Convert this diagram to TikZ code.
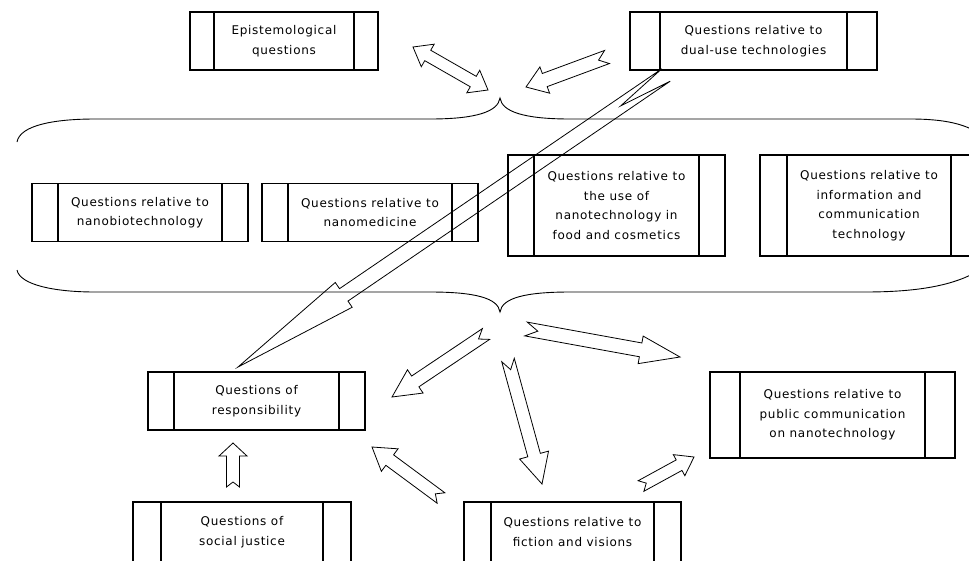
\documentclass[tikz,border=0pt]{standalone}
\usepackage{fontspec}
\setmainfont{DejaVu Sans}[LetterSpace=6]
\usetikzlibrary{calc}

\newcommand{\qfont}{\fontsize{12}{19.5}\selectfont}
% tail, tip, shaft half width, head half width, head length, notch depth
\newcommand{\blockarrow}[6]{%
	\coordinate (ba-h) at ($(#2)!#5!(#1)$);
	\draw[arr] ($(#1)!#3!90:(#2)$) -- ($(ba-h)!#3!90:(#2)$) -- ($(ba-h)!#4!90:(#2)$) -- (#2)
		-- ($(ba-h)!#4!-90:(#2)$) -- ($(ba-h)!#3!-90:(#2)$) -- ($(#1)!#3!-90:(#2)$) -- ($(#1)!#6!(#2)$) -- cycle;
}
% end, end, shaft half width, head half width, head length
\newcommand{\blockdarrow}[5]{%
	\coordinate (bd-a) at ($(#1)!#5!(#2)$);
	\coordinate (bd-b) at ($(#2)!#5!(#1)$);
	\draw[arr] (#1) -- ($(bd-a)!#4!90:(#2)$) -- ($(bd-a)!#3!90:(#2)$) -- ($(bd-b)!#3!90:(#2)$) -- ($(bd-b)!#4!90:(#2)$) -- (#2)
		-- ($(bd-b)!#4!-90:(#2)$) -- ($(bd-b)!#3!-90:(#2)$) -- ($(bd-a)!#3!-90:(#2)$) -- ($(bd-a)!#4!-90:(#2)$) -- cycle;
}

\begin{document}
\begin{tikzpicture}[x=1pt,y=-1pt,
	qbox/.style={draw,line width=1.2pt,inner sep=0pt,align=center,font=\qfont,minimum height=58pt,
		path picture={\draw[line width=1.2pt] ([xshift=#1]path picture bounding box.north west) -- ([xshift=#1]path picture bounding box.south west)
			([xshift=-#1]path picture bounding box.north east) -- ([xshift=-#1]path picture bounding box.south east);}},
	qbox/.default=26pt,
	arr/.style={line width=0.8pt,line join=miter},
	brace/.style={line width=0.9pt}]
	\useasboundingbox (0,0) rectangle (969,560);
	\clip (0,0) rectangle (969,560);
	%top row
	\node[qbox=24pt,minimum width=188pt] (epist) at (284,41) {Epistemological\\questions};
	\node[qbox=30pt,minimum width=247pt] (dual) at (753.5,41) {Questions relative to\\dual-use technologies};
	
	%group in the brace
	\node[qbox,minimum width=216pt] (biotech) at (140,212.5) {Questions relative to\\nanobiotechnology};
	\node[qbox,minimum width=216pt] (medicine) at (370,212.5) {Questions relative to\\nanomedicine};
	\node[qbox,minimum width=217pt,minimum height=101pt] (food) at (616.5,205.5) {Questions relative to\\the use of\\nanotechnology in\\food and cosmetics};
	\node[qbox=27pt,minimum width=218pt,minimum height=101pt] (ict) at (869,205.5) {Questions relative to\\information and\\communication\\technology};
	
	%brace
	\draw[brace] (17,142) .. controls (20,125) and (55,119) .. (95,119) -- (430,119)
		.. controls (475,119) and (498,112) .. (500,98) .. controls (502,112) and (525,119) .. (570,119)
		-- (910,119) .. controls (945,119) and (965,124) .. (980,134);
	\draw[brace] (17,270) .. controls (20,285) and (55,292) .. (95,292) -- (430,292)
		.. controls (475,292) and (498,298) .. (500,312) .. controls (502,298) and (525,292) .. (570,292)
		-- (865,292) .. controls (920,292) and (955,285) .. (980,270);
	
	%bottom part
	\node[qbox,minimum width=217pt] (resp) at (256.5,401) {Questions of\\responsibility};
	\node[qbox=28pt,minimum width=218pt,minimum height=60pt] (justice) at (242,532) {Questions of\\social justice};
	\node[qbox=27pt,minimum width=217pt,minimum height=60pt] (fiction) at (572.5,532) {Questions relative to\\fiction and visions};
	\node[qbox=30pt,minimum width=245pt,minimum height=86pt] (public) at (832.5,415) {Questions relative to\\public communication\\on nanotechnology};
	
	%arrow ends
	\coordinate (epist-a) at (413,47);
	\coordinate (epist-b) at (488,90);
	\coordinate (dual-t) at (607,57);
	\coordinate (dual-h) at (526,87);
	\coordinate (long-t) at (666,75);
	\coordinate (long-h) at (238,367);
	\coordinate (resp-t) at (486,334);
	\coordinate (resp-h) at (392,397);
	\coordinate (fic-t) at (508,360);
	\coordinate (fic-h) at (542,484);
	\coordinate (pub-t) at (526,329);
	\coordinate (pub-h) at (680,357);
	\coordinate (fp-t) at (641,486);
	\coordinate (fp-h) at (694,457);
	\coordinate (fr-t) at (441,498);
	\coordinate (fr-h) at (372,447);
	\coordinate (sj-t) at (233,487);
	\coordinate (sj-h) at (233,443);
	
	%arrows
	\blockdarrow{epist-a}{epist-b}{6pt}{13pt}{17pt}
	\blockarrow{dual-t}{dual-h}{7pt}{14pt}{20pt}{9pt}
	\blockarrow{long-t}{long-h}{7.5pt}{15pt}{128pt}{55pt}
	\blockarrow{resp-t}{resp-h}{6.5pt}{14pt}{28pt}{9pt}
	\blockarrow{fic-t}{fic-h}{6.5pt}{15pt}{30pt}{10pt}
	\blockarrow{pub-t}{pub-h}{7pt}{14pt}{40pt}{12pt}
	\blockarrow{fp-t}{fp-h}{6pt}{12pt}{17pt}{6pt}
	\blockarrow{fr-t}{fr-h}{6.5pt}{14pt}{22pt}{7pt}
	\blockarrow{sj-t}{sj-h}{6.5pt}{14pt}{13pt}{5pt}
\end{tikzpicture}
\end{document}
